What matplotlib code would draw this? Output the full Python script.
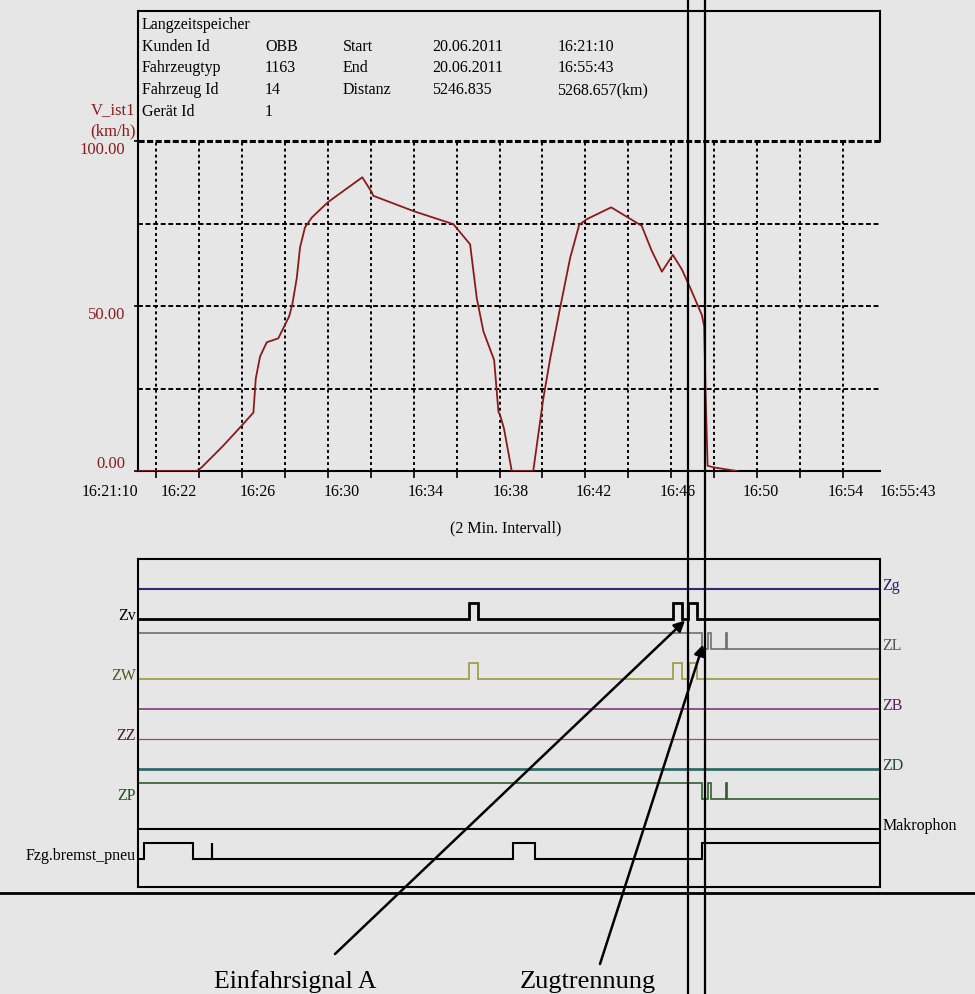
import matplotlib
matplotlib.use("Agg")
import matplotlib.pyplot as plt
from matplotlib import transforms
from matplotlib.lines import Line2D

plt.rcParams['font.family'] = ['Liberation Serif', 'DejaVu Serif']

## time axis: minutes after 16:00
t_start = 21 + 10 / 60.0   # 16:21:10
t_end = 55 + 43 / 60.0     # 16:55:43

## V_ist1 speed trace (km/h)
speed_t = [21.17, 23.04, 23.90, 24.13, 25.14, 26.03, 26.54, 26.65, 26.85, 27.16,
           27.70, 28.20, 28.35, 28.56, 28.71, 28.94, 29.26, 30.00, 30.42, 31.61,
           32.05, 32.12, 34.02, 35.85, 36.63, 36.94, 37.25, 37.75, 37.95, 38.03,
           38.21, 38.57, 39.57, 40.04, 40.36, 40.82, 41.29, 41.71, 42.06, 43.20,
           44.62, 45.09, 45.56, 46.07, 46.49, 46.88, 47.42, 47.53, 47.61, 47.69,
           47.97, 49.05]
speed_v = [0.0, 0.0, 0.0, 1.1, 7.7, 14.0, 17.7, 28.0, 34.7, 39.0,
           40.2, 46.8, 50.4, 58.5, 67.7, 73.8, 76.8, 81.4, 83.4, 89.0,
           84.5, 83.4, 78.7, 74.8, 68.7, 52.4, 42.3, 33.6, 17.9, 16.9,
           12.8, 0.0, 0.0, 22.0, 34.1, 49.4, 64.6, 74.6, 76.3, 79.9,
           74.3, 66.7, 60.4, 65.5, 61.1, 55.5, 47.3, 43.8, 19.9, 1.6,
           1.1, 0.0]

## the recorder prints its time labels slightly off the grid ticks
label_text = ["16:22", "16:26", "16:30", "16:34", "16:38", "16:42", "16:46",
              "16:50", "16:54"]
label_t = [23.08, 26.76, 30.67, 34.58, 38.54, 42.41, 46.32, 50.18, 54.10]

header_rows = [
    ["Langzeitspeicher"],
    ["Kunden Id", "OBB", "Start", "20.06.2011", "16:21:10"],
    ["Fahrzeugtyp", "1163", "End", "20.06.2011", "16:55:43"],
    ["Fahrzeug Id", "14", "Distanz", "5246.835", "5268.657(km)"],
    ["Gerät Id", "1"],
]

## digital channels: start state and toggle times (minutes after 16:00)
channel_names = ["Zg", "Zv", "ZL", "ZW", "ZB", "ZZ", "ZD", "ZP",
                 "Makrophon", "Fzg.bremst_pneu"]
channel_init = [0, 0, 1, 0, 0, 0, 0, 1, 0, 0]
channel_edges = [
    [],
    [36.58, 37.00, 46.07, 46.49, 46.77, 47.21],
    [47.43, 47.71, 47.83, 48.53, 48.57],
    [36.58, 37.00, 46.07, 46.49, 46.80, 47.21],
    [],
    [],
    [],
    [47.43, 47.71, 47.83, 48.53, 48.57],
    [],
    [21.45, 23.71, 24.60, 24.63, 38.63, 39.66, 47.45],
]
line_colors = ["#2b2b78", "black", "#6e6e6e", "#9a9a3a", "#7a3a7a", "#b04848",
               "#2e6b68", "#2f5f2f", "black", "black"]
label_colors = ["#22226e", "black", "#555555", "#55551a", "#5a1f5a", "#4a1a1a",
                "#1f4a3c", "#1f4f1f", "black", "black"]
line_widths = [1.5, 2.0, 1.2, 1.2, 1.2, 0.9, 2.0, 1.2, 1.5, 1.5]

cursor_t = [46.78, 47.57]

bg = "#e6e6e6"
dark_red = "#8b1a1a"

fig = plt.figure(figsize=(9.75, 9.95), dpi=100)
fig.patch.set_facecolor(bg)

def fig_box(x0, y0, x1, y1):
    # pixel box (top-left origin) -> figure fraction rect
    return [x0 / 975.0, 1 - y1 / 995.0, (x1 - x0) / 975.0, (y1 - y0) / 995.0]

## header box
hdr = fig.add_axes(fig_box(138, 12, 880, 142))
hdr.set_facecolor("none")
hdr.set_xticks([])
hdr.set_yticks([])
for side in ["top", "left", "right"]:
    hdr.spines[side].set_linewidth(1.5)
hdr.spines["bottom"].set_visible(False)
col_x = [0.005, 0.171, 0.276, 0.396, 0.565]
for r, row in enumerate(header_rows):
    for c, txt in enumerate(row):
        hdr.text(col_x[c], 0.90 - r * 0.167, txt, fontsize=11.5,
                 ha="left", va="center", transform=hdr.transAxes)

## speed plot
ax = fig.add_axes(fig_box(138, 142, 880, 472))
ax.set_facecolor("none")
ax.plot(speed_t, speed_v, color=dark_red, lw=1.3, zorder=3)
ax.set_xlim(t_start, t_end)
ax.set_ylim(0, 100)

grid_t = list(range(22, 55, 2))
for g in grid_t:
    ax.axvline(g, color="black", lw=1.4, ls=(0, (1.5, 1.6)), zorder=1)
for lvl in [25, 50, 75]:
    ax.axhline(lvl, color="black", lw=1.4, ls=(0, (2.5, 1.4)), zorder=1)
ax.axhline(100, color="black", lw=2.2, ls=(0, (2.0, 0.8)), zorder=1, clip_on=False)

for side in ["top", "right"]:
    ax.spines[side].set_visible(False)
for side in ["left", "bottom"]:
    ax.spines[side].set_linewidth(1.5)

ax.set_xticks([t_start] + label_t + [t_end])
ax.set_xticklabels(["16:21:10"] + label_text + ["16:55:43"], fontsize=11.5)
xl = ax.get_xticklabels()
xl[0].set_horizontalalignment("right")
xl[-1].set_horizontalalignment("left")
ax.set_xticks([t_start] + grid_t + [t_end], minor=True)
ax.tick_params(axis="x", which="major", length=0, pad=9)
ax.tick_params(axis="x", which="minor", direction="out", length=5, width=1.2)
ax.set_yticks([0, 50, 100])
ax.set_yticklabels(["0.00", "50.00", "100.00"], fontsize=12, color=dark_red)
for lab, va in zip(ax.get_yticklabels(), ["bottom", "top", "top"]):
    lab.set_verticalalignment(va)
ax.tick_params(axis="y", direction="out", length=3, width=1.2, pad=6)

ax.text(-0.003, 1.097, "V_ist1", color=dark_red, fontsize=12,
        ha="right", va="center", transform=ax.transAxes)
ax.text(-0.003, 1.033, "(km/h)", color=dark_red, fontsize=12,
        ha="right", va="center", transform=ax.transAxes)
fig.text(506 / 975.0, 1 - 528 / 995.0, "(2 Min. Intervall)", fontsize=11.5,
         ha="center", va="center")

## digital channels panel
low = fig.add_axes(fig_box(138, 560, 880, 888))
low.set_facecolor("none")
low.set_xlim(t_start, t_end)
low.set_ylim(9.93, -1.0)
low.set_xticks([])
low.set_yticks([])
for side in low.spines:
    low.spines[side].set_linewidth(1.5)

row_tr = transforms.blended_transform_factory(low.transAxes, low.transData)
pulse_h = 0.52
for i, name in enumerate(channel_names):
    ts = [t_start]
    lv = [channel_init[i]]
    state = channel_init[i]
    for e in channel_edges[i]:
        ts += [e, e]
        lv += [state, 1 - state]
        state = 1 - state
    ts.append(t_end)
    lv.append(state)
    low.plot(ts, [i - pulse_h * v for v in lv], color=line_colors[i],
             lw=line_widths[i], solid_joinstyle="miter")
    if i % 2 == 1:
        low.text(-0.003, i, name, color=label_colors[i], fontsize=11.5,
                 ha="right", va="baseline", transform=row_tr)
    else:
        low.text(1.003, i, name, color=label_colors[i], fontsize=11.5,
                 ha="left", va="baseline", transform=row_tr)

## cursor lines across the whole picture
cur_tr = transforms.blended_transform_factory(ax.transData, fig.transFigure)
for ct in cursor_t:
    fig.add_artist(Line2D([ct, ct], [0, 1], transform=cur_tr, color="black", lw=1.6))

fig.add_artist(Line2D([0, 1], [1 - 894 / 995.0] * 2, transform=fig.transFigure,
                      color="black", lw=2.0))

## annotations
arrow_kw = dict(arrowstyle="-|>", color="black", lw=1.8, mutation_scale=16,
                shrinkA=0, shrinkB=0)
low.annotate("", xy=(46.64, 1.05), xycoords="data",
             xytext=(335, 995 - 955), textcoords="figure pixels",
             arrowprops=arrow_kw, annotation_clip=False)
low.annotate("", xy=(47.48, 1.85), xycoords="data",
             xytext=(600, 995 - 965), textcoords="figure pixels",
             arrowprops=arrow_kw, annotation_clip=False)
fig.text(295 / 975.0, 1 - 982 / 995.0, "Einfahrsignal A", fontsize=18.5,
         ha="center", va="center")
fig.text(588 / 975.0, 1 - 982 / 995.0, "Zugtrennung", fontsize=19,
         ha="center", va="center")

fig.savefig("out.png", dpi=100, facecolor=bg)
